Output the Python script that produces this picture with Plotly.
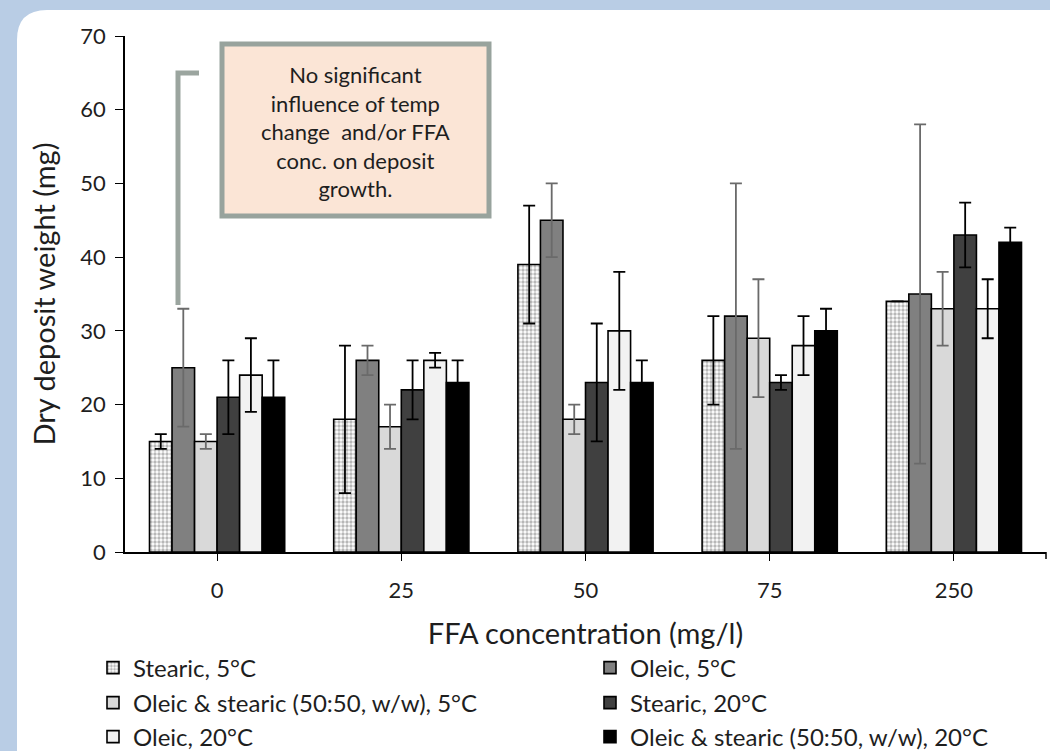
import plotly.graph_objects as go

categories = ["0", "25", "50", "75", "250"]

stearic_5 = [15, 18, 39, 26, 34]
stearic_5_err = [1, 10, 8, 6, 0]
oleic_5 = [25, 26, 45, 32, 35]
oleic_5_err = [8, 2, 5, 18, 23]
mix_5 = [15, 17, 18, 29, 33]
mix_5_err = [1, 3, 2, 8, 5]
stearic_20 = [21, 22, 23, 23, 43]
stearic_20_err = [5, 4, 8, 1, 4.4]
oleic_20 = [24, 26, 30, 28, 33]
oleic_20_err = [5, 1, 8, 4, 4]
mix_20 = [21, 23, 23, 30, 42]
mix_20_err = [5, 3, 3, 3, 2]

names = ["Stearic, 5°C", "Oleic, 5°C", "Oleic & stearic (50:50, w/w), 5°C",
         "Stearic, 20°C", "Oleic, 20°C", "Oleic & stearic (50:50, w/w), 20°C"]

FONT = "Lato, 'Open Sans', sans-serif"
TXT = "#1e1e1e"
BG = "#b9cde5"

W, H = 1050, 751
L, R, T, B = 125, 1046, 36, 552


def px(x):
    return (x - L) / (R - L)


def py(y):
    return (B - y) / (B - T)


# fill, error colour, legend position (px)
series = [
    (stearic_5, stearic_5_err, "#ffffff", "black", (93, 668)),
    (oleic_5, oleic_5_err, "#808080", "#6a6a6a", (590, 668)),
    (mix_5, mix_5_err, "#d9d9d9", "#6a6a6a", (93, 703)),
    (stearic_20, stearic_20_err, "#404040", "black", (590, 703)),
    (oleic_20, oleic_20_err, "#f2f2f2", "black", (93, 737)),
    (mix_20, mix_20_err, "#000000", "black", (590, 737)),
]

fig = go.Figure()
legends = {}
for i, (vals, err, col, ecol, pos) in enumerate(series):
    lg = f"legend{i + 2}"
    marker = dict(color=col, line=dict(color="black", width=1.6))
    if i == 0:
        marker["pattern"] = dict(shape=".", fgcolor="#6f6f6f", bgcolor="#ffffff",
                                 size=4, solidity=0.55)
    fig.add_trace(go.Bar(
        x=categories, y=vals, name=names[i], marker=marker, legend=lg,
        error_y=dict(type="data", array=err, visible=True, color=ecol,
                     thickness=1.8, width=6),
    ))
    legends[lg] = dict(orientation="h", font=dict(family=FONT, size=24, color=TXT),
                       bgcolor="rgba(0,0,0,0)", xanchor="left", yanchor="middle",
                       x=px(pos[0]), y=py(pos[1]), itemclick=False)

# background panel
r = 30
x0, y0 = 17, 10
x1, y1 = 1060, 760
path = (f"M {px(x0)},{py(y0 + r)} Q {px(x0)},{py(y0)} {px(x0 + r)},{py(y0)} "
        f"L {px(x1)},{py(y0)} L {px(x1)},{py(y1)} L {px(x0)},{py(y1)} Z")
shapes = [
    dict(type="path", xref="paper", yref="paper", path=path,
         fillcolor="white", line=dict(width=0), layer="below"),
    dict(type="path", xref="paper", yref="paper",
         path=f"M {px(199)},{py(73)} L {px(178)},{py(73)} L {px(178)},{py(305)}",
         line=dict(color="#9ba59f", width=5)),
    dict(type="rect", xref="paper", yref="paper",
         x0=px(222), x1=px(489), y0=py(44), y1=py(216),
         fillcolor="#fbe5d6", line=dict(color="#98a39d", width=5)),
    dict(type="line", xref="paper", yref="paper",
         x0=1, x1=1, y0=0, y1=py(559), line=dict(color="black", width=1.5)),
]

annotations = [
    dict(xref="paper", yref="paper", x=px(355.5), y=py(131), showarrow=False,
         xanchor="center", yanchor="middle",
         text="No significant<br>influence of temp<br>change  and/or FFA<br>conc. on deposit<br>growth.",
         font=dict(family=FONT, size=22, color=TXT), align="center"),
]

fig.update_layout(
    width=W, height=H,
    margin=dict(l=L, r=W - R, t=T, b=H - B, autoexpand=False),
    paper_bgcolor=BG,
    plot_bgcolor="white",
    barmode="group", bargap=0.266, bargroupgap=0,
    font=dict(family=FONT, color=TXT),
    shapes=shapes, annotations=annotations,
    **legends,
    xaxis=dict(
        type="category", range=[-0.5, 4.5], showline=True, linecolor="black",
        linewidth=1.5, ticks="outside", ticklen=7, tickcolor="black",
        ticklabelstandoff=11,
        tickfont=dict(family=FONT, size=22, color=TXT),
        title=dict(text="FFA concentration (mg/l)", standoff=22,
                   font=dict(family=FONT, size=29, color=TXT)),
        showgrid=False, zeroline=False,
    ),
    yaxis=dict(
        range=[0, 70], dtick=10, showline=True, linecolor="black", linewidth=1.5,
        ticks="outside", ticklen=8, tickcolor="black",
        ticklabelstandoff=5,
        tickfont=dict(family=FONT, size=22, color=TXT),
        title=dict(text="Dry deposit weight (mg)", standoff=16,
                   font=dict(family=FONT, size=29, color=TXT)),
        showgrid=False, zeroline=False,
    ),
)

fig.write_html(
    "out.html",
    config={"displayModeBar": False},
    post_script=f"document.body.style.margin='0';document.body.style.background='{BG}';",
)
